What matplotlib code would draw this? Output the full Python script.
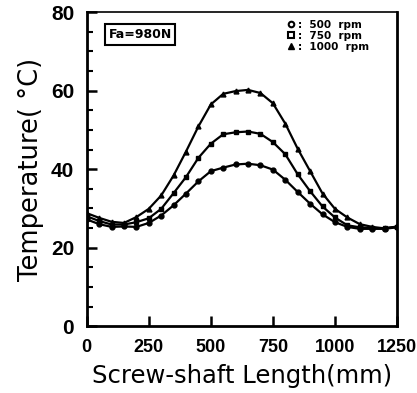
import numpy as np
import matplotlib.pyplot as plt
from matplotlib.lines import Line2D
from matplotlib.ticker import MultipleLocator

# screw-shaft position (mm), one reading every 50 mm
length = np.arange(0, 1251, 50)

t500 = [27.2, 26.0, 25.3, 25.4, 25.3, 26.3, 28.2, 30.8, 33.8, 36.9, 39.5, 40.4, 41.2,
        41.4, 41.0, 39.9, 37.3, 34.2, 31.2, 28.5, 26.5, 25.3, 24.8, 24.8, 24.8, 25.2]
t750 = [28.0, 26.8, 25.9, 25.9, 26.5, 27.5, 29.9, 33.9, 38.0, 42.9, 46.5, 48.9, 49.4,
        49.6, 49.0, 46.9, 43.8, 38.7, 34.4, 30.5, 27.7, 25.7, 25.2, 25.0, 25.0, 25.3]
t1000 = [28.8, 27.6, 26.6, 26.3, 27.8, 29.9, 33.3, 38.4, 44.5, 50.9, 56.5, 59.2, 59.9,
         60.2, 59.4, 56.8, 51.6, 45.2, 39.5, 33.8, 29.9, 27.7, 26.0, 25.3, 24.9, 25.4]

labels = [':  500  rpm', ':  750  rpm', ':  1000  rpm']

fig = plt.figure(figsize=(4.17, 3.93), dpi=100)
ax = fig.add_axes([0.208, 0.170, 0.744, 0.799])

ax.plot(length, t500, 'k-', lw=1.6, marker='o', ms=3.5)
ax.plot(length, t750, 'k-', lw=1.6, marker='s', ms=3.2)
ax.plot(length, t1000, 'k-', lw=1.6, marker='^', ms=3.5)

ax.set_xlim(0, 1250)
ax.set_ylim(0, 80)
ax.set_xticks([0, 250, 500, 750, 1000, 1250])
ax.set_yticks([0, 20, 40, 60, 80])
ax.yaxis.set_minor_locator(MultipleLocator(5))
ax.tick_params(which='major', direction='in', length=7, width=1.8)
ax.tick_params(which='minor', direction='in', length=4, width=1.5)
ax.tick_params(axis='x', pad=9)
ax.tick_params(axis='y', pad=9)
for lab in ax.get_xticklabels():
    lab.set_fontweight('bold')
    lab.set_fontsize(13)
    lab.set_family(['Liberation Sans Narrow', 'Liberation Sans', 'DejaVu Sans'])
for lab in ax.get_yticklabels():
    lab.set_fontweight('bold')
    lab.set_fontsize(15)
    lab.set_family(['Liberation Sans', 'DejaVu Sans'])
for side in ['left', 'bottom', 'right']:
    ax.spines[side].set_linewidth(2)
ax.spines['top'].set_linewidth(1.2)

ax.set_ylabel('Temperature( °C)', fontsize=18.5, labelpad=5)
ax.set_xlabel('Screw-shaft Length(mm)', fontsize=17.5, labelpad=6)

ax.text(215, 74.3, 'Fa=980N', fontsize=9, fontweight='bold', ha='center', va='center',
        bbox=dict(boxstyle='square,pad=0.3', fc='white', ec='black', lw=1.5))

handles = [Line2D([], [], ls='none', marker='o', ms=4, mfc='white', mec='k', mew=1.5, color='k'),
           Line2D([], [], ls='none', marker='s', ms=4, mfc='white', mec='k', mew=1.5, color='k'),
           Line2D([], [], ls='none', marker='^', ms=5, mfc='k', mec='k', color='k')]
leg = ax.legend(handles, labels, loc='upper right', bbox_to_anchor=(0.93, 0.995), frameon=False,
                prop={'size': 7.5, 'weight': 'bold'}, handlelength=0.8, handletextpad=0.3,
                labelspacing=0.1, borderaxespad=0.2)

fig.savefig('out.png', dpi=100)
